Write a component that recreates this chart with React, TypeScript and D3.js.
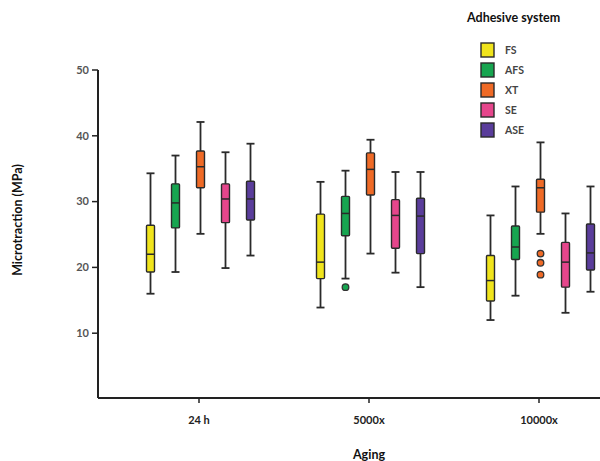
import * as d3 from 'd3'
import React from 'react'

// groups on the x axis and adhesive systems inside each group
const groups = ['24 h', '5000x', '10000x']
const systems = ['FS', 'AFS', 'XT', 'SE', 'ASE']
const colors = ['#f0e41c', '#17a550', '#ef6a26', '#e6468c', '#5a3d9b']

// [whiskerLow, q1, median, q3, whiskerHigh] per group, one list per system
const fsStats = [
  [16.0, 19.3, 22.0, 26.4, 34.3],
  [13.9, 18.3, 20.8, 28.1, 33.0],
  [12.0, 14.9, 18.0, 21.8, 27.9],
]
const afsStats = [
  [19.3, 26.0, 29.8, 32.7, 37.0],
  [18.3, 24.8, 28.2, 30.8, 34.7],
  [15.7, 21.2, 23.1, 26.3, 32.3],
]
const xtStats = [
  [25.1, 32.1, 35.3, 37.7, 42.1],
  [22.1, 31.0, 34.9, 37.4, 39.4],
  [25.1, 28.4, 32.1, 33.4, 39.0],
]
const seStats = [
  [19.9, 26.8, 30.4, 32.7, 37.5],
  [19.2, 22.9, 27.9, 30.3, 34.5],
  [13.1, 17.0, 20.8, 23.8, 28.2],
]
const aseStats = [
  [21.8, 27.2, 30.4, 33.1, 38.8],
  [17.0, 22.1, 27.8, 30.5, 34.5],
  [16.3, 19.6, 22.2, 26.6, 32.3],
]
const allStats = [fsStats, afsStats, xtStats, seStats, aseStats]

// outliers: [group, system, value]
const outliers: [string, string, number][] = [
  ['5000x', 'AFS', 17.0],
  ['10000x', 'XT', 22.1],
  ['10000x', 'XT', 20.7],
  ['10000x', 'XT', 18.9],
]

const yTicks = [10, 20, 30, 40, 50]

const font = 'Lato, "Open Sans", sans-serif'

export default function App() {
  const width = 600
  const height = 461
  const axisX = 98
  const axisY = 398

  const y = d3.scaleLinear().domain([0, 50]).range([axisY + 1, 70])
  const x = d3.scaleBand().domain(groups).range([114, 624])
  const inner = d3.scaleBand().domain(systems).range([-61, 64]).paddingInner(0)
  const boxW = 8
  const capW = 8

  const cx = (g: string, s: string) =>
    (x(g) as number) + x.bandwidth() / 2 + (inner(s) as number) + inner.bandwidth() / 2

  return (
    <svg width={width} height={height} style={{ position: 'absolute', left: 0, top: 0 }}>
      <rect width={width} height={height} fill="#fff" />

      {/* y axis */}
      <line x1={axisX} x2={axisX} y1={y(50)} y2={axisY} stroke="#222" strokeWidth={2} />
      {yTicks.map(t => (
        <g key={t}>
          <line x1={axisX - 6} x2={axisX} y1={y(t)} y2={y(t)} stroke="#222" strokeWidth={1.5} />
          <text x={axisX - 9} y={y(t)} dy="0.35em" textAnchor="end" fontFamily={font}
            fontSize={11} fontWeight="bold" fill="#555">{t}</text>
        </g>
      ))}
      <text transform={`translate(22 ${(y(50) + axisY) / 2 - 14}) rotate(-90)`} textAnchor="middle"
        fontFamily={font} fontSize={12.5} fontWeight="bold" fill="#111">Microtraction (MPa)</text>

      {/* x axis */}
      <line x1={axisX} x2={width} y1={axisY} y2={axisY} stroke="#222" strokeWidth={2} />
      {groups.map(g => {
        const gx = (x(g) as number) + x.bandwidth() / 2
        return (
          <g key={g}>
            <line x1={gx} x2={gx} y1={axisY} y2={axisY + 5} stroke="#222" strokeWidth={1.5} />
            <text x={gx} y={axisY + 26} textAnchor="middle" fontFamily={font} fontSize={11}
              fontWeight="bold" fill="#222">{g}</text>
          </g>
        )
      })}
      <text x={(x('5000x') as number) + x.bandwidth() / 2} y={459} textAnchor="middle"
        fontFamily={font} fontSize={12.5} fontWeight="bold" fill="#111">Aging</text>

      {/* boxes */}
      {systems.map((s, si) =>
        groups.map((g, gi) => {
          const [lo, q1, med, q3, hi] = allStats[si][gi]
          const c = cx(g, s)
          return (
            <g key={s + g}>
              <line x1={c} x2={c} y1={y(hi)} y2={y(lo)} stroke="#2a2a2a" strokeWidth={1.8} />
              <line x1={c - capW / 2} x2={c + capW / 2} y1={y(hi)} y2={y(hi)} stroke="#2a2a2a" strokeWidth={1.8} />
              <line x1={c - capW / 2} x2={c + capW / 2} y1={y(lo)} y2={y(lo)} stroke="#2a2a2a" strokeWidth={1.8} />
              <rect x={c - boxW / 2} y={y(q3)} width={boxW} height={y(q1) - y(q3)} fill={colors[si]}
                stroke="#2a2a2a" strokeWidth={1.4} rx={1} />
              <line x1={c - boxW / 2} x2={c + boxW / 2} y1={y(med)} y2={y(med)} stroke="#2a2a2a" strokeWidth={1.5} />
            </g>
          )
        })
      )}
      {outliers.map(([g, s, v], i) => (
        <circle key={i} cx={cx(g, s)} cy={y(v)} r={3.3} fill={colors[systems.indexOf(s)]}
          stroke="#333" strokeWidth={1.3} />
      ))}

      {/* legend */}
      <text x={467} y={22} fontFamily={font} fontSize={12.5} fontWeight="bold" fill="#111">Adhesive system</text>
      {systems.map((s, i) => (
        <g key={s} transform={`translate(481 ${43 + i * 20})`}>
          <rect width={13} height={14} fill={colors[i]} stroke="#2a2a2a" strokeWidth={1.4} />
          <text x={24} y={7} dy="0.35em" fontFamily={font} fontSize={10.5} fontWeight="bold" fill="#444">{s}</text>
        </g>
      ))}
    </svg>
  )
}
